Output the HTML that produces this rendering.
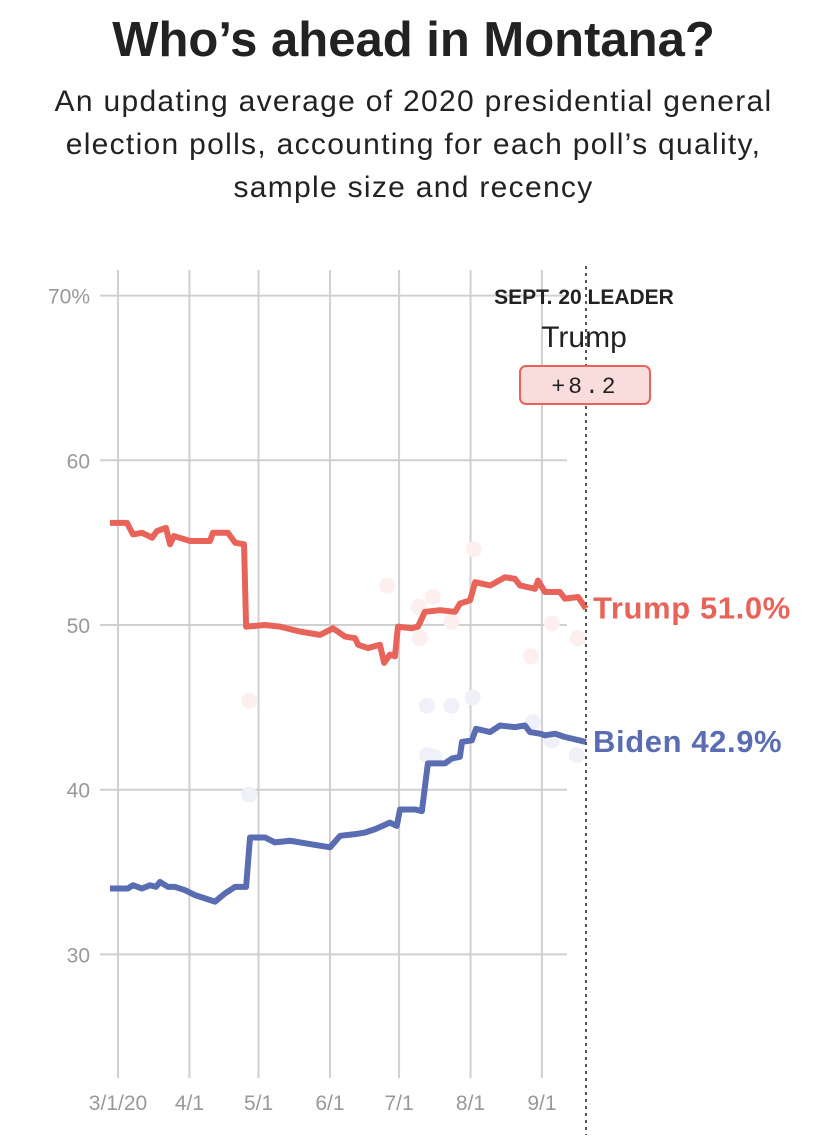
<!DOCTYPE html>
<html><head><meta charset="utf-8">
<style>
body{margin:0;background:#fff;width:827px;height:1139px;overflow:hidden;font-family:"Liberation Sans",sans-serif;}
#title{position:absolute;left:0;width:827px;top:12px;text-align:center;font-weight:bold;font-size:49px;color:#222;}
#sub{position:absolute;left:0;width:827px;top:80px;text-align:center;font-size:30px;line-height:43px;color:#222;letter-spacing:1.3px;}
svg{position:absolute;left:0;top:0;}
</style></head><body>
<div id="title">Who’s ahead in Montana?</div>
<div id="sub">An updating average of 2020 presidential general<br>election polls, accounting for each poll’s quality,<br>sample size and recency</div>
<svg id="chart" width="827" height="1139"></svg>
<script>
const yTicks=[70,60,50,40,30];
const yTickLabels=["70%","60","50","40","30"];
const xTickDays=[0,31,61,92,122,153,184];
const xTickLabels=["3/1/20","4/1","5/1","6/1","7/1","8/1","9/1"];
const trumpDays=[-3.5,3.9,6.5,10.4,14.8,16.9,20.8,22.6,24.3,31.3,39.9,41.2,47.7,50.8,54.7,55.6,63.8,70.3,79,87.7,93.3,98.5,102.9,104.2,108.5,113.7,115.5,118,120.2,121.5,127.6,130.2,133.2,139.8,146.3,148.4,152.8,155,161.5,168,172.3,174.5,181,182.3,185.3,191.8,194,199.7,203.1];
const trumpVals=[56.2,56.2,55.5,55.6,55.3,55.7,55.9,54.9,55.4,55.1,55.1,55.6,55.6,55.0,54.9,49.9,50.0,49.9,49.6,49.4,49.8,49.3,49.2,48.8,48.6,48.8,47.7,48.2,48.1,49.9,49.8,49.9,50.8,50.9,50.8,51.3,51.5,52.6,52.4,52.9,52.8,52.4,52.2,52.7,52.0,52.0,51.6,51.7,51.0];
const bidenDays=[-3.5,4.3,6.5,10.4,13.9,16.5,18.2,21.7,24.7,29.1,33.4,37.8,42.1,46.4,50.8,55.6,57.3,63.8,68.1,74.7,83.3,92,96.4,102.9,107.2,111.5,118,121,122.4,128.9,131.9,134.5,141.9,145,148.4,149.3,153.6,155.4,161.5,165.8,172.3,176.6,178.8,183.2,185.3,189.7,194,203.1];
const bidenVals=[34.0,34.0,34.2,34.0,34.2,34.1,34.4,34.1,34.1,33.9,33.6,33.4,33.2,33.7,34.1,34.1,37.1,37.1,36.8,36.9,36.7,36.5,37.2,37.3,37.4,37.6,38.0,37.8,38.8,38.8,38.7,41.6,41.6,41.9,42.0,42.9,43.0,43.7,43.5,43.9,43.8,43.9,43.5,43.4,43.3,43.4,43.2,42.9];
const trumpPollDays=[56.9,116.8,130.6,136.6,131,144.8,154.4,179.2,188.3,199.6];
const trumpPollVals=[45.4,52.4,51.1,51.7,49.2,50.2,54.6,48.1,50.1,49.2];
const bidenPollDays=[56.9,134.1,137.2,144.8,134.1,154,180.1,188.3,199.1];
const bidenPollVals=[39.7,42.1,42.0,45.1,45.1,45.6,44.1,43.0,42.1];

const NS="http://www.w3.org/2000/svg";
const svg=document.getElementById('chart');
const x=d=>118+d*2.304;
const y=v=>625-(v-50)*16.47;
function mk(t,a,txt){const e=document.createElementNS(NS,t);for(const k in a)e.setAttribute(k,a[k]);if(txt!==undefined)e.textContent=txt;svg.appendChild(e);return e;}
yTicks.forEach((v,i)=>{
 const g=mk('line',{x1:100,x2:567,y1:y(v),y2:y(v),stroke:'#d0d0d0','stroke-width':2});
 
 
 const t=mk('text',{x:90,y:y(v)+8,'text-anchor':'end','font-size':21,fill:'#999'},yTickLabels[i]);
 
 
});
xTickDays.forEach((d,i)=>{
 const g=mk('line',{x1:x(d),x2:x(d),y1:270,y2:1078,stroke:'#d0d0d0','stroke-width':2});
 
 
 const t=mk('text',{x:x(d),y:1110,'text-anchor':'middle','font-size':21,fill:'#999'},xTickLabels[i]);
 
 
});
function dots(ds,vs,col,name){ds.forEach((d,i)=>{const c=mk('circle',{cx:x(d),cy:y(vs[i]),r:8,fill:col});
 
 });}
dots(trumpPollDays,trumpPollVals,'#fcefee','trump-poll-dot');
dots(bidenPollDays,bidenPollVals,'#f0f1f8','biden-poll-dot');
function line(ds,vs,col,name){const p=mk('polyline',{points:ds.map((d,i)=>x(d)+','+y(vs[i])).join(' '),fill:'none',stroke:col,'stroke-width':6,'stroke-linejoin':'round'});
 
 }
line(trumpDays,trumpVals,'#e8645a','trump-line');
line(bidenDays,bidenVals,'#5a6db2','biden-line');
const dl=mk('line',{x1:586,x2:586,y1:266,y2:1135,stroke:'#555','stroke-width':2,'stroke-dasharray':'3,4'});


const l1=mk('text',{x:584,y:304,'text-anchor':'middle','font-size':21,'font-weight':'bold',fill:'#222'},'SEPT. 20 LEADER');


const l2=mk('text',{x:584,y:347,'text-anchor':'middle','font-size':30,fill:'#222'},'Trump');


const bx=mk('rect',{x:520,y:366,width:130,height:38,rx:6,fill:'#f9dcdc',stroke:'#e8645a','stroke-width':2});


const bt=mk('text',{x:585,y:393,'text-anchor':'middle','font-size':23,'letter-spacing':3,'font-family':'Liberation Mono, monospace',fill:'#222'},'+8.2');


const tl=mk('text',{x:593,y:y(trumpVals[trumpVals.length-1])+10,'font-size':31,'letter-spacing':0.6,'font-weight':'bold',fill:'#e8645a'},'Trump 51.0%');


const bl=mk('text',{x:593,y:y(bidenVals[bidenVals.length-1])+10,'font-size':31,'letter-spacing':0.6,'font-weight':'bold',fill:'#5a6db2'},'Biden 42.9%');


</script>
</body></html>
